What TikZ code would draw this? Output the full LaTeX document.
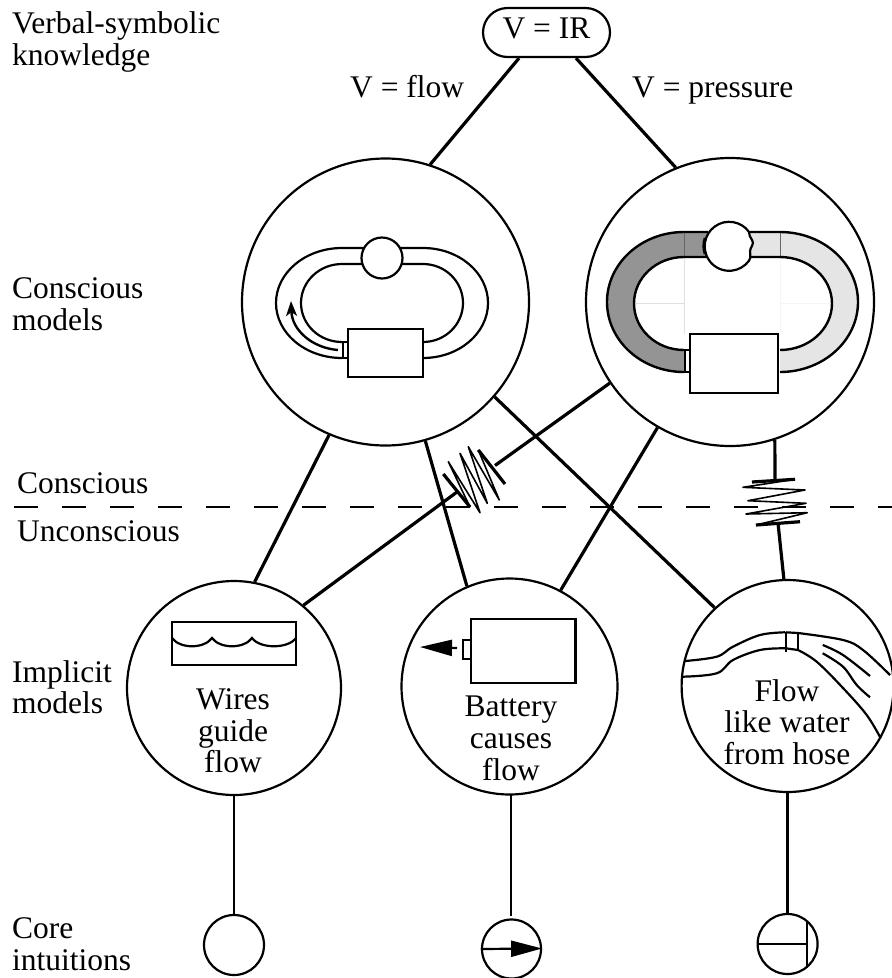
\documentclass[tikz,border=0pt]{standalone}
\usepackage{fontspec}
\setmainfont{Liberation Serif}
\usetikzlibrary{arrows.meta, shapes.misc}

\begin{document}
\begin{tikzpicture}[x=1pt,y=-1pt,
    txt/.style={font=\fontsize{31.5}{32}\selectfont, inner sep=0pt, anchor=base},
    lab/.style={txt, anchor=base west},
    ring/.style={circle, draw, line width=2.2pt, inner sep=0pt, minimum size=#1},
    link/.style={line width=3.2pt},
    thin link/.style={line width=2.4pt},
    wire/.style={line width=2.2pt},
    zig/.style={line width=1.6pt, line join=round}]
    \useasboundingbox (0,0) rectangle (892,978);

    % side labels
    \foreach \name/\x/\y/\lbl in {a/12/33/Verbal-symbolic, b/12/65/knowledge, c/12/298/Conscious, d/12/330/models,
        e/17/493/Conscious, f/17/541/Unconscious, g/12/682/Implicit, h/12/713/models, i/12/938/Core, j/12/970/intuitions} {
        \node[lab] (side\name) at (\x,\y) {\lbl};
    }
    \draw[line width=2.4pt, dash pattern=on 24pt off 24pt] (14,507) -- (892,507);

    % top
    \node[draw, line width=2.2pt, rounded rectangle, inner sep=0pt, minimum width=127pt, minimum height=49pt,
        text height=12pt, text depth=0pt, font=\fontsize{31.5}{32}\selectfont] (vir) at (546.5,32.5) {V = IR};
    \node[lab] (vflow) at (350,97) {V = flow};
    \node[lab] (vpress) at (632,97) {V = pressure};

    % circles
    \node[ring=287pt] (flowmodel) at (385.5,302) {};
    \node[ring=288pt] (pressmodel) at (730,302) {};
    \node[ring=214pt] (wires) at (234,688) {};
    \node[ring=216pt] (battery) at (509.5,686.5) {};
    \node[ring=212pt] (hose) at (787.6,686) {};
    \node[ring=60pt] (corea) at (234,945) {};
    \node[ring=59pt] (coreb) at (511.5,949) {};
    \node[ring=60pt] (corec) at (787.6,944) {};

    \foreach \name/\x/\y/\lbl in {a/233/709/Wires, b/233/741/guide, c/233/772/flow,
        d/511/716.5/Battery, e/511/748/causes, f/511/780/flow,
        g/787/701/Flow, h/787/732/like water, i/787/764/from hose} {
        \node[txt] (word\name) at (\x,\y) {\lbl};
    }

    % connectors
    \draw[link] (vir.-137) -- (flowmodel.72.8);
    \draw[link] (vir.-41) -- (pressmodel.112.5);
    \draw[link] (flowmodel.-113) -- (wires.79.6);
    \draw[link] (flowmodel.-74.5) -- (battery.113.3);
    \draw[link] (flowmodel.-41.8) -- (hose.133.1);
    \draw[link] (pressmodel.-120.3) -- (battery.62.5);
    \coordinate (dlow) at (457,492);
    \coordinate (dhigh) at (495,465.5);
    \draw[link] (wires.50.2) -- (dlow);
    \draw[link] (dhigh) -- (pressmodel.-146);
    \coordinate (flow) at (775,480);
    \coordinate (fhigh) at (778,523);
    \draw[link] (pressmodel.-72.7) -- (flow);
    \draw[link] (fhigh) -- (hose.92);
    \draw[thin link] (wires.south) -- (corea.north);
    \coordinate (batfoot) at (511,795);
    \coordinate (bathead) at (511,916);
    \draw[thin link] (batfoot) -- (bathead);
    \draw[thin link] (hose.south) -- (corec.north);

    % resistors
    \draw[link] (443.3,474) -- (470,507);
    \draw[zig] (470,507) -- (448.3,461.7) -- (480,512.7) -- (460,453.3) -- (487.3,503.3) -- (468.3,446.7) -- (499.3,500) -- (478.3,450);
    \draw[link] (478.3,450) -- (505,484);
    \draw[link] (752,482) -- (795,479.3);
    \draw[zig] (795,479.3) -- (743,487.3) -- (805,490) -- (748,500.7) -- (806,503.3) -- (746,514) -- (807.3,512.7) -- (756,525);
    \draw[link] (756,525) -- (800,521.7);

    % flow loop
    \draw[wire] (342,358) arc[start angle=90, end angle=270, x radius=66, y radius=55] -- (423,248)
        arc[start angle=-90, end angle=90, x radius=65, y radius=55];
    \draw[wire] (342,342) arc[start angle=90, end angle=270, x radius=41, y radius=39] -- (423,264)
        arc[start angle=-90, end angle=90, x radius=40, y radius=39];
    \node[ring=41pt, fill=white] (flowbulb) at (382,258) {};
    \draw[wire, fill=white] (343,342) rectangle (348,358);
    \draw[wire, fill=white] (348,329) rectangle (423,377);
    \draw[line width=2.4pt, -{Stealth[length=15pt, width=11pt, inset=4pt]}] (338,350) .. controls (312,348) and (292,330) .. (291,301);

    % pressure loop
    \fill[black!42] (708,232) -- (684,232) arc[start angle=270, end angle=90, x radius=77, y radius=70]
        -- (684,350) arc[start angle=90, end angle=270, x radius=50, y radius=46.5] -- (708,257) -- cycle;
    \fill[black!10] (750,232) -- (780,232) arc[start angle=-90, end angle=90, x radius=78, y radius=70]
        -- (780,350) arc[start angle=90, end angle=-90, x radius=52, y radius=46.5] -- (750,257) -- cycle;
    \draw[black!12, line width=0.7pt] (634,303) -- (684,303) (684,257) -- (684,334);
    \draw[black!4, line width=0.7pt] (780,303) -- (832,303) (780,257) -- (780,334);
    \draw[black!60, line width=0.8pt] (684,232) -- (684,257) (780,232) -- (780,257);
    \draw[line width=2.4pt] (708,232) -- (684,232) arc[start angle=270, end angle=90, x radius=77, y radius=70];
    \draw[line width=2.4pt] (708,257) -- (684,257) arc[start angle=270, end angle=90, x radius=50, y radius=46.5];
    \draw[line width=2.4pt] (750,232) -- (780,232) arc[start angle=-90, end angle=90, x radius=78, y radius=70];
    \draw[line width=2.4pt] (750,257) -- (780,257) arc[start angle=-90, end angle=90, x radius=52, y radius=46.5];
    \draw[wire, fill=white] (749,231.9) arc[start angle=-36, end angle=-324, radius=24.5]
        .. controls (752,257) and (749,252) .. (750.5,249) .. controls (752,246) and (754,243) .. (752,240) .. controls (750,237) and (749,235) .. cycle;
    \draw[line width=3pt] (705.2,238) arc[start angle=199, end angle=161, radius=24.5];
    \draw[wire, fill=white] (685,350) rectangle (690,372);
    \draw[wire, fill=white] (690,334) rectangle (778,393);

    % wires guide flow
    \draw[wire] (172,622) rectangle (296,665);
    \draw[wire] (172,638) .. controls (180,649) and (204,649) .. (212,638)
        .. controls (220,649) and (244,649) .. (252,638)
        .. controls (260,649) and (288,649) .. (296,638);

    % battery causes flow
    \draw[wire] (471,619) rectangle (575.5,683);
    \draw[wire] (463,640) rectangle (471,659);
    \draw[wire, -{Triangle[length=32pt, width=16pt]}] (457,648) -- (420,647);

    % water from hose
    \draw[wire] plot[smooth, tension=0.6] coordinates {(685,661) (716.7,656.7) (733,646.7) (760,635) (785,632.3)};
    \draw[wire] (785.7,632.3) -- (798,633);
    \draw[wire] plot[smooth, tension=0.6] coordinates {(798,633) (843,640) (863,650) (890,675)};
    \draw[wire] plot[smooth, tension=0.6] coordinates {(682.7,676.7) (716.7,673.3) (733,660) (760,650) (785,648.3)};
    \draw[wire] (785.7,648.3) -- (798,650);
    \draw[wire] plot[smooth, tension=0.6] coordinates {(798,650) (816.7,661.7) (843,688) (866.7,715) (880.7,738.3)};
    \draw[wire] plot[smooth, tension=0.6] coordinates {(822.7,645) (843,655) (870,676)};
    \draw[wire] plot[smooth, tension=0.6] coordinates {(822.7,653.3) (843,666.7) (856.7,685) (870,697.3)};
    \draw[wire] (785.7,632) -- (785.7,652);
    \draw[wire] (798,633) -- (798,651);

    % core intuitions
    \draw[wire, -{Triangle[length=31pt, width=16pt]}] (coreb.180) -- (coreb.1);
    \draw[wire] (corec.180) -- (807,944);
    \draw[wire] (807,922) -- (807,968);
\end{tikzpicture}
\end{document}
